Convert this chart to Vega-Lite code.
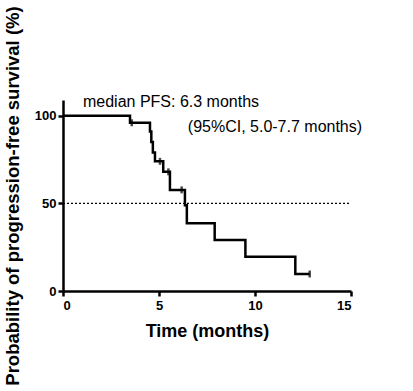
{
  "$schema": "https://vega.github.io/schema/vega-lite/v6.json",
  "width": 288,
  "height": 191,
  "autosize": "none",
  "padding": {"left": 63, "top": 100, "right": 62, "bottom": 100},
  "config": {
    "view": {"stroke": null},
    "font": "Liberation Sans",
    "axis": {
      "grid": false,
      "domainColor": "black",
      "domainWidth": 2.5,
      "tickColor": "black",
      "tickWidth": 2.5,
      "tickSize": 5,
      "labelFont": "Liberation Sans",
      "labelFontWeight": "bold",
      "labelFontSize": 13,
      "labelColor": "black",
      "titleFont": "Liberation Sans",
      "titleFontWeight": "bold",
      "titleColor": "black"
    }
  },
  "datasets": {
    "km": [
      {"t": 0, "s": 100},
      {"t": 3.49, "s": 96},
      {"t": 4.53, "s": 91},
      {"t": 4.6, "s": 85},
      {"t": 4.68, "s": 79},
      {"t": 4.79, "s": 74},
      {"t": 5.22, "s": 68},
      {"t": 5.57, "s": 57.7},
      {"t": 6.35, "s": 49},
      {"t": 6.45, "s": 38.7},
      {"t": 7.9, "s": 29.1},
      {"t": 9.5, "s": 19.6},
      {"t": 12.1, "s": 9.7},
      {"t": 12.85, "s": 9.7}
    ],
    "cens": [
      {"t": 3.58, "s": 96},
      {"t": 5.05, "s": 74},
      {"t": 5.49, "s": 68},
      {"t": 6.18, "s": 57.7},
      {"t": 12.85, "s": 9.7}
    ],
    "notes": [
      {"t": 1.04, "s": 108, "label": "median PFS: 6.3 months"},
      {"t": 6.5, "s": 93.7, "label": "(95%CI, 5.0-7.7 months)"}
    ]
  },
  "layer": [
    {
      "data": {"values": [{"t0": 0, "t1": 15, "s": 50}]},
      "mark": {"type": "rule", "color": "black", "strokeWidth": 1.2, "strokeDash": [2, 2]},
      "encoding": {
        "x": {"field": "t0", "type": "quantitative"},
        "x2": {"field": "t1"},
        "y": {"field": "s", "type": "quantitative"}
      }
    },
    {
      "data": {"name": "km"},
      "mark": {"type": "line", "interpolate": "step-after", "color": "black", "strokeWidth": 2.5},
      "encoding": {
        "x": {
          "field": "t", "type": "quantitative",
          "scale": {"domain": [0, 15], "nice": false},
          "axis": {"values": [0, 5, 10, 15], "title": "Time (months)", "titleFontSize": 18, "titlePadding": 10, "labelPadding": 3}
        },
        "y": {
          "field": "s", "type": "quantitative",
          "scale": {"domain": [0, 109], "nice": false},
          "axis": {"values": [0, 50, 100], "title": "Probability of progression-free survival (%)", "titleFontSize": 18.5, "titlePadding": 12, "labelPadding": 2}
        },
        "order": {"field": "t"}
      }
    },
    {
      "data": {"name": "cens"},
      "mark": {"type": "tick", "orient": "vertical", "color": "black", "thickness": 2.5, "size": 7},
      "encoding": {
        "x": {"field": "t", "type": "quantitative"},
        "y": {"field": "s", "type": "quantitative"}
      }
    },
    {
      "data": {"name": "notes"},
      "mark": {"type": "text", "align": "left", "baseline": "middle", "fontSize": 16, "font": "Liberation Sans", "color": "black"},
      "encoding": {
        "x": {"field": "t", "type": "quantitative"},
        "y": {"field": "s", "type": "quantitative"},
        "text": {"field": "label"}
      }
    }
  ]
}
